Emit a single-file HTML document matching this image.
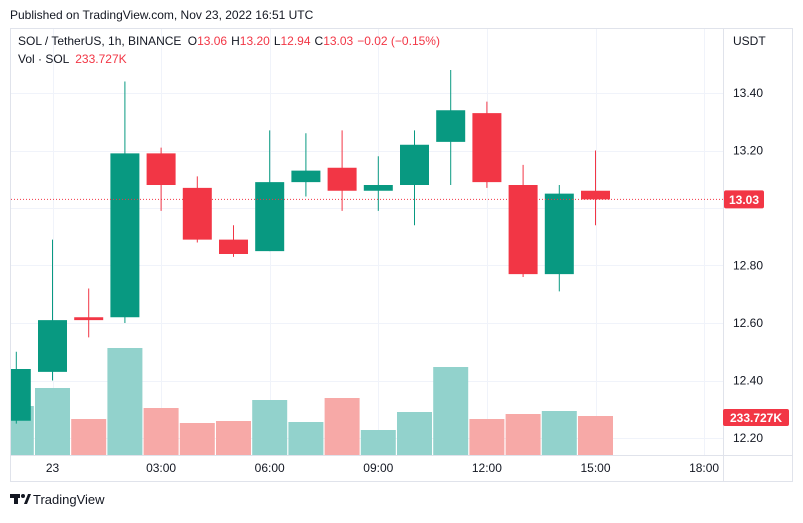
<!DOCTYPE html>
<html><head><meta charset="utf-8"><style>
body{margin:0;background:#fff;width:803px;height:518px;overflow:hidden;font-family:"Liberation Sans",sans-serif}
svg text{font-family:"Liberation Sans",sans-serif}
</style></head><body>
<svg id="c" width="803" height="518">
<text x="10" y="19" font-size="12" fill="#131722">Published on TradingView.com, Nov 23, 2022 16:51 UTC</text>
<rect x="10.5" y="28.5" width="782" height="453" fill="none" stroke="#e0e3eb"/>
<g id="grid"></g><g id="vol"></g><g id="cand"></g><g id="ax"></g>
<text x="18" y="45" font-size="12" fill="#131722">SOL / TetherUS, 1h, BINANCE <tspan dx="3">O</tspan><tspan fill="#f23645">13.06</tspan><tspan dx="4">H</tspan><tspan fill="#f23645">13.20</tspan><tspan dx="4">L</tspan><tspan fill="#f23645">12.94</tspan><tspan dx="4">C</tspan><tspan fill="#f23645">13.03</tspan><tspan dx="4" fill="#f23645">−0.02 (−0.15%)</tspan></text>
<text x="18" y="63" font-size="12" fill="#131722">Vol · SOL <tspan dx="3" fill="#f23645">233.727K</tspan></text>
<text x="733" y="45" font-size="12" fill="#131722">USDT</text>
<g><rect x="10" y="494" width="10" height="4" fill="#131722"/><rect x="14" y="494" width="4" height="10" fill="#131722"/><circle cx="23" cy="496" r="2" fill="#131722"/><polygon points="24,504 28,494 31,494 27,504" fill="#131722"/>
<text x="33" y="504" font-size="13" fill="#131722">TradingView</text></g>
</svg>
<script>
const hours=[-1,0,1,2,3,4,5,6,7,8,9,10,11,12,13,14,15];
const opens=[12.26,12.43,12.62,12.62,13.19,13.07,12.89,12.85,13.09,13.14,13.06,13.08,13.23,13.33,13.08,12.77,13.06];
const highs=[12.50,12.89,12.72,13.44,13.21,13.11,12.94,13.27,13.26,13.27,13.18,13.27,13.48,13.37,13.15,13.08,13.20];
const lows=[12.25,12.40,12.55,12.60,12.99,12.88,12.83,12.85,13.04,12.99,12.99,12.94,13.08,13.07,12.76,12.71,12.94];
const closes=[12.44,12.61,12.61,13.19,13.08,12.89,12.84,13.09,13.13,13.06,13.08,13.22,13.34,13.09,12.77,13.05,13.03];
const volumes=[294,402,216,642,282,192,204,330,198,342,150,258,528,216,246,264,234];
const priceTicks=[13.40,13.20,13.00,12.80,12.60,12.40,12.20];
const timeTicks=[0,3,6,9,12,15,18];
const timeLabels=["23","03:00","06:00","09:00","12:00","15:00","18:00"];
const last=13.03, lastVolLabel="233.727K";
const NS="http://www.w3.org/2000/svg";
const X=h=>52.5+h*36.2, Y=p=>93+(13.40-p)*287.5, VY=v=>455-v/6;
function mk(par,t,a){const e=document.createElementNS(NS,t);for(const k in a)e.setAttribute(k,a[k]);document.getElementById(par).appendChild(e);return e;}
priceTicks.forEach(p=>{const l=mk('grid','line',{x1:11,x2:723,y1:Math.round(Y(p))+.5,y2:Math.round(Y(p))+.5,stroke:'#f0f3fa'});


if(p!==13.00){const t=mk('ax','text',{x:733,y:Y(p)+4,'font-size':12,fill:'#131722'});t.textContent=p.toFixed(2);

}});
timeTicks.forEach((h,i)=>{const l=mk('grid','line',{x1:Math.round(X(h))+.5,x2:Math.round(X(h))+.5,y1:29,y2:455,stroke:'#f0f3fa'});


const t=mk('ax','text',{x:X(h),y:472,'font-size':12,fill:'#131722','text-anchor':'middle'});t.textContent=timeLabels[i];

});
mk('grid','line',{x1:723.5,x2:723.5,y1:29,y2:481,stroke:'#e0e3eb'});
mk('grid','line',{x1:11,x2:792,y1:455.5,y2:455.5,stroke:'#e0e3eb'});
hours.forEach((h,i)=>{const up=closes[i]>=opens[i];const x=X(h);
const vb=mk('vol','rect',{x:Math.max(11,x-17.5),y:VY(volumes[i]),width:x-17.5<11?x+17.5-11:35,height:455-VY(volumes[i]),fill:up?'#92d2cc':'#f7a9a7'});


const c=up?'#089981':'#f23645';
const w=mk('cand','line',{x1:x,x2:x,y1:Y(highs[i]),y2:Y(lows[i]),stroke:c,'stroke-width':1});


const top=Y(Math.max(opens[i],closes[i])),bot=Y(Math.min(opens[i],closes[i]));
const b=mk('cand','rect',{x:Math.max(11,x-14.5),y:top,width:x-14.5<11?x+14.5-11:29,height:Math.max(2,bot-top),fill:c});

});
const pl=mk('cand','line',{x1:11,x2:723,y1:Y(last),y2:Y(last),stroke:'#f23645','stroke-dasharray':'1 2'});


const pb=mk('ax','rect',{x:724,y:Y(last)-9,width:40,height:18,fill:'#f23645',rx:2});


const pt=mk('ax','text',{x:744,y:Y(last)+4.5,'font-size':12,fill:'#fff','text-anchor':'middle','font-weight':'bold'});pt.textContent=last.toFixed(2);
const vb2=mk('ax','rect',{x:723,y:409,width:66,height:17,fill:'#f23645',rx:2});


const vt=mk('ax','text',{x:756,y:422,'font-size':12,fill:'#fff','text-anchor':'middle','font-weight':'bold'});vt.textContent=lastVolLabel;
</script>
</body></html>
